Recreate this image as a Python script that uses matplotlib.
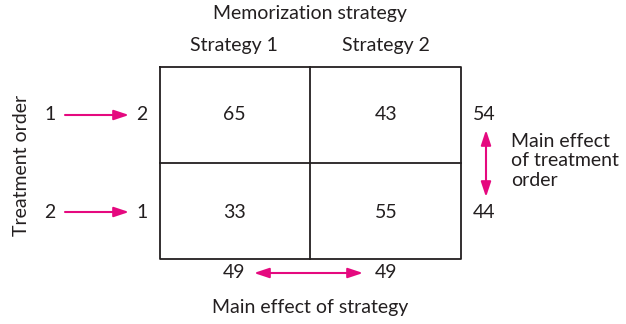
import matplotlib.pyplot as plt

# Cell means: rows = treatment order, columns = memorization strategy
strategies = ["Strategy 1", "Strategy 2"]
orders = [("1", "2"), ("2", "1")]
cell_means = [[65, 43],
              [33, 55]]
row_means = [54, 44]
col_means = [49, 49]

pink = "#E5097F"
ink = "#231F20"
plt.rcParams['font.family'] = ['Lato', 'DejaVu Sans']

fig = plt.figure(figsize=(6.26, 3.24), dpi=100)
ax = fig.add_axes([0, 0, 1, 1])
ax.set_xlim(0, 626)
ax.set_ylim(324, 0)
ax.axis('off')

# grid box
left, right, top, bottom = 160, 461, 67, 259
midx, midy = 310, 163
ax.plot([left, right, right, left, left], [top, top, bottom, bottom, top], color=ink, lw=1.3)
ax.plot([midx, midx], [top, bottom], color=ink, lw=1.3)
ax.plot([left, right], [midy, midy], color=ink, lw=1.3)

fs = 14
col_x = [234, 386]
row_y = [115, 212]

ax.text(midx, 14, "Memorization strategy", ha='center', va='center', fontsize=fs, color=ink)
for x, s in zip(col_x, strategies):
    ax.text(x, 46, s, ha='center', va='center', fontsize=fs, color=ink)

for i, y in enumerate(row_y):
    for j, x in enumerate(col_x):
        ax.text(x, y, str(cell_means[i][j]), ha='center', va='center', fontsize=fs, color=ink)
    a, b = orders[i]
    ax.text(50, y, a, ha='center', va='center', fontsize=fs, color=ink)
    ax.text(142, y, b, ha='center', va='center', fontsize=fs, color=ink)
    ax.annotate("", xy=(129, y), xytext=(65, y),
                arrowprops=dict(arrowstyle="-|>,head_length=0.9,head_width=0.3",
                                color=pink, lw=1.5, shrinkA=0, shrinkB=0))
    ax.text(484, y, str(row_means[i]), ha='center', va='center', fontsize=fs, color=ink)

ax.text(22, 165, "Treatment order", ha='center', va='center', rotation=90, fontsize=fs, color=ink)

# main effect of treatment order
ax.annotate("", xy=(486, 197), xytext=(486, 130),
            arrowprops=dict(arrowstyle="<|-|>,head_length=0.9,head_width=0.3",
                            color=pink, lw=1.5, shrinkA=0, shrinkB=0))
ax.text(511, 161, "Main effect\nof treatment\norder", ha='left', va='center',
        fontsize=fs, color=ink, linespacing=1.2)

# main effect of strategy
for x, m in zip(col_x, col_means):
    ax.text(x, 273, str(m), ha='center', va='center', fontsize=fs, color=ink)
ax.annotate("", xy=(363, 273), xytext=(254, 273),
            arrowprops=dict(arrowstyle="<|-|>,head_length=0.9,head_width=0.3",
                            color=pink, lw=1.5, shrinkA=0, shrinkB=0))
ax.text(midx, 308, "Main effect of strategy", ha='center', va='center', fontsize=fs, color=ink)

fig.savefig("out.png", dpi=100)
